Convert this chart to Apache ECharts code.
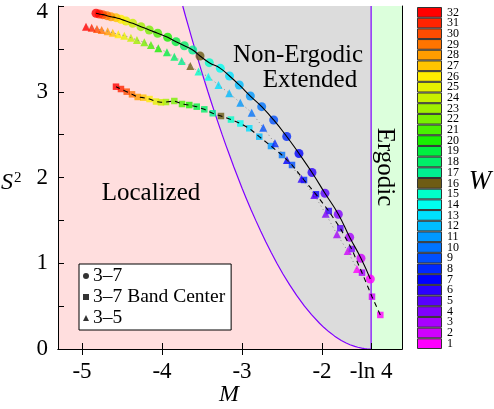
<!DOCTYPE html>
<html>
<head>
<meta charset="utf-8">
<script src="https://cdn.jsdelivr.net/npm/echarts@6/dist/echarts.min.js"></script>
<style>
html, body { margin: 0; padding: 0; background: #fff; }
#chart { width: 494px; height: 409px; }
</style>
</head>
<body>
<div id="chart"></div>
<script>
// W = 1 ... 32
const wValues = [1, 2, 3, 4, 5, 6, 7, 8, 9, 10, 11, 12, 13, 14, 15, 16,
  17, 18, 19, 20, 21, 22, 23, 24, 25, 26, 27, 28, 29, 30, 31, 32];
const wColors = ['#ff00ff', '#d000ff', '#a800ff', '#8000ff', '#5800ff', '#2c00ff', '#0000ff', '#0028ff',
  '#0050ff', '#0074ff', '#0098ff', '#00bcff', '#00e0ff', '#00fff0', '#00ffc8', '#6e5c14',
  '#00f090', '#00f068', '#00f040', '#18f000', '#48f000', '#78f000', '#a0f000', '#c8f000',
  '#e6f000', '#ffee00', '#ffc400', '#ff9c00', '#ff7400', '#ff4c00', '#ff2400', '#ff0000'];

// 3-7 (circles)
const circleM = [-1.396, -1.513, -1.654, -1.796, -1.963, -2.125, -2.288, -2.441,
  -2.604, -2.754, -2.896, -3.034, -3.156, -3.271, -3.409, -3.525,
  -3.616, -3.721, -3.825, -3.929, -4.054, -4.159, -4.263, -4.366,
  -4.450, -4.513, -4.575, -4.638, -4.688, -4.741, -4.784, -4.825];
const circleS2 = [0.816, 1.058, 1.303, 1.571, 1.816, 2.058, 2.280, 2.478,
  2.671, 2.826, 2.950, 3.079, 3.184, 3.273, 3.339, 3.417,
  3.487, 3.537, 3.584, 3.635, 3.682, 3.720, 3.759, 3.798,
  3.825, 3.845, 3.864, 3.875, 3.887, 3.899, 3.907, 3.915];

// 3-7 Band Center (squares)
const squareM = [-1.271, -1.375, -1.500, -1.629, -1.771, -1.916, -2.075, -2.225,
  -2.375, -2.500, -2.638, -2.784, -2.909, -3.021, -3.138, -3.263,
  -3.366, -3.471, -3.566, -3.659, -3.750, -3.846, -3.950, -4.013,
  -4.075, -4.156, -4.234, -4.304, -4.375, -4.441, -4.513, -4.575];
const squareS2 = [0.397, 0.610, 0.890, 1.166, 1.408, 1.609, 1.804, 1.971,
  2.146, 2.262, 2.367, 2.476, 2.574, 2.630, 2.676, 2.717,
  2.749, 2.795, 2.826, 2.845, 2.857, 2.892, 2.880, 2.877,
  2.886, 2.915, 2.931, 2.939, 2.970, 3.001, 3.032, 3.059];

// 3-5 (triangles)
const triangleM = [-1.563, -1.679, -1.813, -1.954, -2.096, -2.256, -2.438, -2.588,
  -2.734, -2.879, -3.021, -3.159, -3.294, -3.421, -3.544, -3.646,
  -3.754, -3.846, -3.938, -4.046, -4.138, -4.221, -4.313, -4.388,
  -4.471, -4.546, -4.616, -4.679, -4.754, -4.813, -4.879, -4.950];
const triangleS2 = [0.933, 1.143, 1.338, 1.577, 1.796, 1.985, 2.204, 2.399,
  2.581, 2.756, 2.872, 2.982, 3.079, 3.175, 3.236, 3.300,
  3.359, 3.409, 3.460, 3.507, 3.545, 3.577, 3.603, 3.631,
  3.654, 3.670, 3.689, 3.705, 3.720, 3.732, 3.747, 3.759];

// boundary between localized and non-ergodic extended
const boundaryM = [-3.741, -3.704, -3.666, -3.628, -3.589, -3.549, -3.509, -3.468, -3.426,
  -3.383, -3.339, -3.294, -3.248, -3.201, -3.152, -3.103, -3.051, -2.999, -2.944,
  -2.887, -2.828, -2.767, -2.703, -2.635, -2.564, -2.488, -2.406, -2.317, -2.219,
  -2.131, -2.031, -1.975, -1.913, -1.842, -1.759, -1.698, -1.650, -1.590, -1.553,
  -1.504, -1.469, -1.439, -1.386];
const boundaryS2 = [4, 3.875, 3.75, 3.625, 3.5, 3.375, 3.25, 3.125, 3,
  2.875, 2.75, 2.625, 2.5, 2.375, 2.25, 2.125, 2, 1.875, 1.75,
  1.625, 1.5, 1.375, 1.25, 1.125, 1, 0.875, 0.75, 0.625, 0.5,
  0.4, 0.3, 0.25, 0.2, 0.15, 0.1, 0.07, 0.05, 0.03, 0.02,
  0.01, 0.005, 0.002, 0];

const minusLn4 = -1.386;
const xTicks = [-5, -4, -3, -2, minusLn4];
const xTickLabels = ['-5', '-4', '-3', '-2', '-ln 4'];

const serif = 'Liberation Serif';

const pairs = (xs, ys) => xs.map((x, i) => [x, ys[i]]);
const coloredPoints = (xs, ys) => xs.map((x, i) => ({
  value: [x, ys[i]],
  itemStyle: { color: wColors[i] }
}));

const chart = echarts.init(document.getElementById('chart'));

chart.setOption({
  backgroundColor: '#fff',
  animation: false,
  textStyle: { fontFamily: serif, color: '#000' },
  grid: [
    { left: 58, top: 6, width: 344, height: 343, show: true, backgroundColor: '#ffdede', borderWidth: 0 },
    { left: 417, top: 7, width: 25, height: 342, show: false }
  ],
  xAxis: [
    {
      type: 'value', gridIndex: 0, min: -5.3, max: -1, z: 5,
      axisLine: { lineStyle: { color: '#000', width: 1 } },
      axisTick: { inside: true, length: 6, customValues: xTicks, lineStyle: { color: '#000' } },
      axisLabel: {
        customValues: xTicks, fontSize: 23, fontFamily: serif, color: '#000', margin: 11,
        formatter: v => xTickLabels[xTicks.indexOf(v)] ?? ''
      },
      splitLine: { show: false }
    },
    {
      type: 'value', gridIndex: 0, min: -5.3, max: -1, position: 'top', z: 5,
      axisLine: { lineStyle: { color: '#000', width: 1 } },
      axisTick: { inside: true, length: 6, customValues: [-5, -4, -3, -2], lineStyle: { color: '#000' } },
      axisLabel: { show: false },
      splitLine: { show: false }
    },
    { type: 'value', gridIndex: 1, min: 0, max: 1, show: false }
  ],
  yAxis: [
    {
      type: 'value', gridIndex: 0, min: 0, max: 4, interval: 1, z: 5,
      axisLine: { lineStyle: { color: '#000', width: 1 } },
      axisTick: { inside: true, length: 6, lineStyle: { color: '#000' } },
      minorTick: { show: true, splitNumber: 2, length: 6, lineStyle: { color: '#000' } },
      axisLabel: {
        fontSize: 23, fontFamily: serif, color: '#000', margin: 10,
        formatter: v => (v === 4 ? '{top|4}' : String(v)),
        rich: { top: { fontSize: 23, fontFamily: serif, padding: [12, 0, 0, 0] } }
      },
      splitLine: { show: false },
      minorSplitLine: { show: false }
    },
    {
      type: 'value', gridIndex: 0, min: 0, max: 4, position: 'right', z: 5,
      axisLine: { show: true, lineStyle: { color: '#000', width: 1 } },
      axisTick: { show: false }, axisLabel: { show: false }, splitLine: { show: false }
    },
    {
      type: 'category', gridIndex: 1, position: 'right', data: wValues.map(String),
      axisLine: { show: false }, axisTick: { show: false },
      axisLabel: { interval: 0, fontSize: 12, fontFamily: serif, color: '#000', margin: 5 }
    }
  ],
  legend: {
    data: [
      { name: '3–7', icon: 'circle' },
      { name: '3–7 Band Center', icon: 'rect' },
      { name: '3–5', icon: 'triangle' }
    ],
    orient: 'vertical', left: 79, top: 264,
    itemWidth: 6, itemHeight: 6, itemGap: 1,
    padding: [2, 6, 2, 4],
    backgroundColor: '#fff', borderColor: '#000', borderWidth: 1,
    selectedMode: false,
    textStyle: { fontFamily: serif, fontSize: 19.5, color: '#000', padding: [0, 0, 0, -1] }
  },
  graphic: [
    { type: 'text', x: 298, y: 55, z: 10, style: { text: 'Non-Ergodic', fontFamily: serif, fontSize: 25, fill: '#000', align: 'center', verticalAlign: 'middle' } },
    { type: 'text', x: 310, y: 80, z: 10, style: { text: 'Extended', fontFamily: serif, fontSize: 25, fill: '#000', align: 'center', verticalAlign: 'middle' } },
    { type: 'text', x: 151, y: 193, z: 10, style: { text: 'Localized', fontFamily: serif, fontSize: 25, fill: '#000', align: 'center', verticalAlign: 'middle' } },
    { type: 'text', x: 385, y: 167, rotation: -Math.PI / 2, z: 10, style: { text: 'Ergodic', fontFamily: serif, fontSize: 25, fill: '#000', align: 'center', verticalAlign: 'middle' } },
    { type: 'text', x: 229, y: 395, z: 10, style: { text: 'M', fontFamily: serif, fontStyle: 'italic', fontSize: 24, fill: '#000', align: 'center', verticalAlign: 'middle' } },
    { type: 'text', x: 480, y: 182, z: 10, style: { text: 'W', fontFamily: serif, fontStyle: 'italic', fontSize: 27, fill: '#000', align: 'center', verticalAlign: 'middle' } },
    {
      type: 'text', x: 1, y: 183, z: 10,
      style: {
        text: '{s|S}{p|2}', align: 'left', verticalAlign: 'middle',
        rich: {
          s: { fontFamily: serif, fontStyle: 'italic', fontSize: 24, fill: '#000' },
          p: { fontFamily: serif, fontSize: 15, fill: '#000', padding: [0, 0, 10, 1] }
        }
      }
    }
  ],
  series: [
    {
      name: 'extended-area', type: 'line', xAxisIndex: 0, yAxisIndex: 0, z: 1, silent: true,
      data: pairs(boundaryM, boundaryS2), symbol: 'none',
      lineStyle: { width: 0 }, areaStyle: { color: '#dcdcdc', opacity: 1, origin: 'end' }
    },
    {
      name: 'ergodic-area', type: 'line', xAxisIndex: 0, yAxisIndex: 0, z: 1, silent: true,
      data: [[minusLn4, 4], [-1, 4]], symbol: 'none',
      lineStyle: { width: 0 }, areaStyle: { color: '#dcffdc', opacity: 1, origin: 'start' }
    },
    {
      name: 'boundary', type: 'line', xAxisIndex: 0, yAxisIndex: 0, z: 2, silent: true,
      data: pairs(boundaryM, boundaryS2), symbol: 'none',
      lineStyle: { color: '#7f00ff', width: 1.2 }
    },
    {
      name: 'ergodic-edge', type: 'line', xAxisIndex: 0, yAxisIndex: 0, z: 2, silent: true,
      data: [[minusLn4, 0], [minusLn4, 4]], symbol: 'none',
      lineStyle: { color: '#7f00ff', width: 1.2 }
    },
    {
      name: '3–7', type: 'scatter', xAxisIndex: 0, yAxisIndex: 0, z: 3,
      symbol: 'circle', symbolSize: 9, itemStyle: { color: '#000' },
      data: coloredPoints(circleM, circleS2)
    },
    {
      name: '3–7 Band Center', type: 'scatter', xAxisIndex: 0, yAxisIndex: 0, z: 3,
      symbol: 'rect', symbolSize: 6.5, itemStyle: { color: '#000' },
      data: coloredPoints(squareM, squareS2)
    },
    {
      name: '3–5', type: 'scatter', xAxisIndex: 0, yAxisIndex: 0, z: 3,
      symbol: 'triangle', symbolSize: 8, itemStyle: { color: '#000' },
      data: coloredPoints(triangleM, triangleS2)
    },
    {
      name: 'line-3-7', type: 'line', xAxisIndex: 0, yAxisIndex: 0, z: 4, silent: true,
      data: pairs(circleM, circleS2), smooth: true, symbol: 'none',
      lineStyle: { color: '#000', width: 1.1 }
    },
    {
      name: 'line-band', type: 'line', xAxisIndex: 0, yAxisIndex: 0, z: 4, silent: true,
      data: pairs(squareM, squareS2), symbol: 'none',
      lineStyle: { color: '#000', width: 1.1, type: [5, 4] }
    },
    {
      name: 'line-3-5', type: 'line', xAxisIndex: 0, yAxisIndex: 0, z: 4, silent: true,
      data: pairs(triangleM, triangleS2), symbol: 'none',
      lineStyle: { color: '#8a8a8a', width: 1, type: [1, 3] }
    },
    {
      name: 'colorbar', type: 'bar', xAxisIndex: 2, yAxisIndex: 2, z: 2, silent: true,
      barWidth: '100%', barCategoryGap: '0%',
      itemStyle: { borderColor: '#333', borderWidth: 1 },
      data: wColors.map(c => ({ value: 1, itemStyle: { color: c } }))
    }
  ]
});
</script>
</body>
</html>
